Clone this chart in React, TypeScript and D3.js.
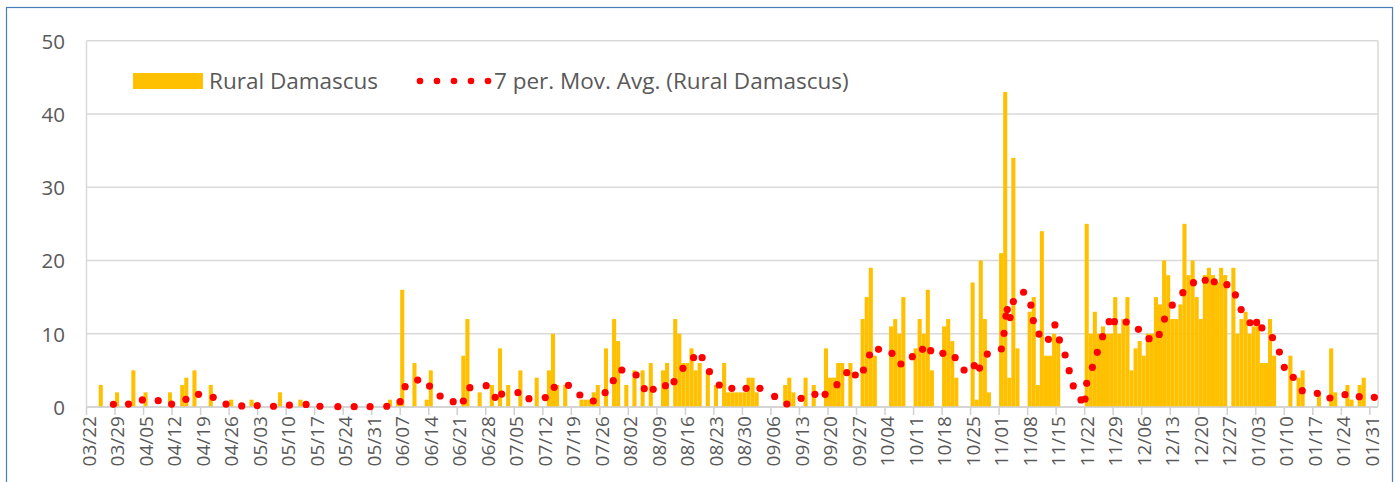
import React from "react";
import * as d3 from "d3";

// Daily cases, day 0 = 03/22 (2020), through 02/01 (2021)
const dailyCases: number[] = [
  0, 0, 0, 3, 0, 0, 0,
  2, 0, 0, 0, 5, 0, 0,
  2, 0, 0, 0, 0, 0, 2,
  0, 0, 3, 4, 0, 5, 0,
  0, 0, 3, 0, 0, 0, 0,
  1, 0, 0, 0, 0, 1, 0,
  0, 0, 0, 0, 0, 2, 0,
  0, 0, 0, 1, 0, 0, 0,
  0, 0, 0, 0, 0, 0, 0,
  0, 0, 0, 0, 0, 0, 0,
  0, 0, 0, 0, 1, 0, 1,
  16, 0, 0, 6, 0, 0, 1,
  5, 0, 0, 0, 0, 0, 0,
  0, 7, 12, 0, 0, 2, 0,
  0, 3, 0, 8, 0, 3, 0,
  0, 5, 0, 0, 0, 4, 0,
  0, 5, 10, 3, 0, 3, 0,
  0, 0, 1, 1, 1, 2, 3,
  0, 8, 0, 12, 9, 0, 3,
  0, 5, 0, 5, 0, 6, 0,
  0, 5, 6, 0, 12, 10, 6,
  6, 8, 5, 6, 0, 5, 0,
  3, 0, 6, 2, 2, 2, 2,
  2, 4, 4, 2, 0, 0, 0,
  0, 0, 0, 3, 4, 2, 0,
  0, 4, 0, 3, 0, 0, 8,
  4, 4, 6, 6, 0, 6, 0,
  0, 12, 15, 19, 7, 0, 0,
  0, 11, 12, 10, 15, 0, 0,
  8, 12, 10, 16, 5, 0, 0,
  11, 12, 9, 4, 0, 0, 0,
  17, 1, 20, 12, 2, 0, 0,
  21, 43, 4, 34, 8, 0, 0,
  13, 15, 3, 24, 7, 7, 10,
  9, 0, 0, 0, 0, 0, 0,
  25, 10, 13, 10, 11, 10, 10,
  15, 10, 12, 15, 5, 8, 9,
  7, 10, 10, 15, 14, 20, 18,
  12, 12, 14, 25, 18, 20, 15,
  12, 18, 19, 18, 17, 19, 18,
  0, 19, 10, 12, 13, 10, 11,
  12, 6, 6, 12, 7, 0, 0,
  0, 7, 0, 4, 5, 0, 0,
  0, 2, 0, 0, 8, 2, 0,
  0, 3, 1, 0, 3, 4, 0,
  0, 0,
];

// 7 per. moving average points: position (days from 03/22) and value
const maDay: number[] = [
  6.1, 9.8, 13.2, 17.1, 20.4, 23.9, 27.0, 30.6, 33.75, 37.6, 41.4, 45.4, 49.3, 53.4, 56.8,
  61.2, 65.2, 69.1, 73.2, 76.5, 77.7, 80.8, 83.7, 86.3, 89.5, 92.0, 93.6, 97.6, 99.8, 101.4,
  105.4, 108.1, 112.1, 114.3, 117.8, 120.6, 123.9, 126.8, 128.8, 130.9, 134.4, 136.4, 138.6,
  141.6, 143.7, 145.9, 148.5, 150.6, 152.4, 154.8, 157.9, 161.4, 164.8, 168.4, 171.4, 174.9,
  178.3, 180.8, 183.7, 186.1, 188.2, 190.2, 191.7, 193.9, 197.2, 199.4, 202.2, 204.7, 206.7,
  209.7, 212.7, 214.9, 217.4, 218.7, 220.6, 224.05, 224.7, 225.2, 225.5, 226.2, 227.0, 229.5,
  231.3, 231.9, 233.3, 235.6, 237.2, 238.3, 239.7, 240.7, 241.7, 243.6, 244.6, 245.0, 246.4,
  247.6, 248.9, 250.5, 251.8, 254.7, 257.7, 260.3, 262.8, 264.1, 266.0, 268.6, 271.2, 274.1,
  276.3, 279.4, 281.5, 282.9, 285.1, 286.7, 288.0, 290.6, 292.3, 293.5, 295.7, 297.9, 301.6,
  304.7, 308.4, 311.9, 315.6,
];
const maValue: number[] = [
  0.37, 0.4, 0.96, 0.87, 0.4, 1.05, 1.73, 1.32, 0.4, 0.14, 0.2, 0.1, 0.25, 0.35, 0.1,
  0.05, 0.05, 0.05, 0.1, 0.73, 2.77, 3.68, 2.85, 1.5, 0.73, 0.82, 2.64, 2.91, 1.32, 1.77,
  1.96, 1.14, 1.28, 2.68, 2.96, 1.64, 0.82, 1.96, 3.59, 5.05, 4.37, 2.5, 2.41,
  2.91, 3.46, 5.28, 6.73, 6.73, 4.82, 3.0, 2.55, 2.55, 2.55, 1.45, 0.41, 1.18,
  1.73, 1.73, 3.05, 4.69, 4.37, 5.05, 7.1, 7.87, 7.32, 5.87, 6.87, 7.87, 7.69,
  7.32, 6.73, 5.05, 5.64, 5.32, 7.23, 7.92, 10.05, 12.4, 13.3, 12.2, 14.4, 15.66,
  13.9, 11.8, 9.96, 9.24, 11.2, 9.15, 7.1, 4.96, 2.87, 0.96, 1.09, 3.23, 5.41,
  7.46, 9.6, 11.65, 11.65, 11.6, 10.6, 9.32, 9.9, 12.0, 13.9, 15.6, 16.97, 17.3,
  17.1, 16.7, 15.3, 13.3, 11.5, 11.55, 10.8, 9.46, 7.5, 5.41, 4.05, 2.23, 1.87,
  1.23, 1.68, 1.41, 1.32,
];

const yTicks: number[] = [0, 10, 20, 30, 40, 50];
const startDate = new Date(2020, 2, 22);
const totalDays = 317;
const tickEvery = 7;

const seriesName = "Rural Damascus";
const maName = "7 per. Mov. Avg. (Rural Damascus)";

const W = 1395;
const H = 482;
const plot = { left: 86.5, right: 1378, top: 40.7, bottom: 407 };
const FONT = "'Open Sans', 'Noto Sans', sans-serif";
const TEXT = "#595959";
const GRID = "#d9d9d9";

export default function App() {
  const x = d3.scaleLinear().domain([0, totalDays]).range([plot.left, plot.right]);
  const y = d3.scaleLinear().domain([0, 50]).range([plot.bottom, plot.top]);
  const bw = x(1) - x(0);
  const fmt = d3.timeFormat("%m/%d");
  const tickDays = d3.range(0, totalDays - 1, tickEvery);

  return (
    <svg
      width={W}
      height={H}
      style={{ position: "fixed", left: 0, top: 0, background: "#fff" }}
      fontFamily={FONT}
    >
      <rect x={0} y={0} width={W} height={H} fill="#fff" />
      {/* outer chart border */}
      <rect x={6.5} y={7.5} width={1386} height={500} fill="none" stroke="#4A7EBB" strokeWidth={1.2} />

      {/* gridlines */}
      {yTicks.map((t) => (
        <line key={t} x1={plot.left} x2={plot.right} y1={y(t)} y2={y(t)} stroke={GRID} strokeWidth={1.5} />
      ))}
      <line x1={plot.left} x2={plot.left} y1={plot.top} y2={plot.bottom} stroke={GRID} strokeWidth={1.5} />
      <line x1={plot.right} x2={plot.right} y1={plot.top} y2={plot.bottom} stroke={GRID} strokeWidth={1.5} />

      {/* y labels */}
      {yTicks.map((t) => (
        <text key={t} x={65} y={y(t)} textAnchor="end" dominantBaseline="central" fontSize={20.5} fill={TEXT}>
          {t}
        </text>
      ))}

      {/* bars */}
      {dailyCases.map((v, i) =>
        v > 0 ? (
          <rect key={i} x={x(i)} y={y(v)} width={bw} height={y(0) - y(v)} fill="#FFC000" />
        ) : null
      )}

      {/* axis line and ticks */}
      <line x1={plot.left} x2={plot.right} y1={plot.bottom} y2={plot.bottom} stroke="#d0d0d0" strokeWidth={1.5} />
      {tickDays.map((d) => (
        <line key={d} x1={x(d)} x2={x(d)} y1={plot.bottom} y2={plot.bottom + 8} stroke="#d0d0d0" strokeWidth={1.5} />
      ))}
      {tickDays.map((d) => {
        const cx = x(d + 0.5);
        const cy = 416;
        return (
          <text
            key={d}
            x={cx}
            y={cy}
            transform={`rotate(-90, ${cx}, ${cy})`}
            textAnchor="end"
            dominantBaseline="central"
            fontSize={19}
            fill={TEXT}
          >
            {fmt(d3.timeDay.offset(startDate, d))}
          </text>
        );
      })}

      {/* moving average dots */}
      {maDay.map((d, i) => (
        <circle key={i} cx={x(d + 0.5)} cy={y(maValue[i])} r={3.6} fill="#FF0000" />
      ))}

      {/* legend */}
      <rect x={133} y={73} width={70} height={16} fill="#FFC000" />
      <text x={209} y={88.5} fontSize={22.5} fill={TEXT}>
        {seriesName}
      </text>
      {d3.range(5).map((k) => (
        <circle key={k} cx={420 + k * 17} cy={81} r={3.3} fill="#FF0000" />
      ))}
      <text x={494} y={88.5} fontSize={22.5} fill={TEXT}>
        {maName}
      </text>
    </svg>
  );
}
